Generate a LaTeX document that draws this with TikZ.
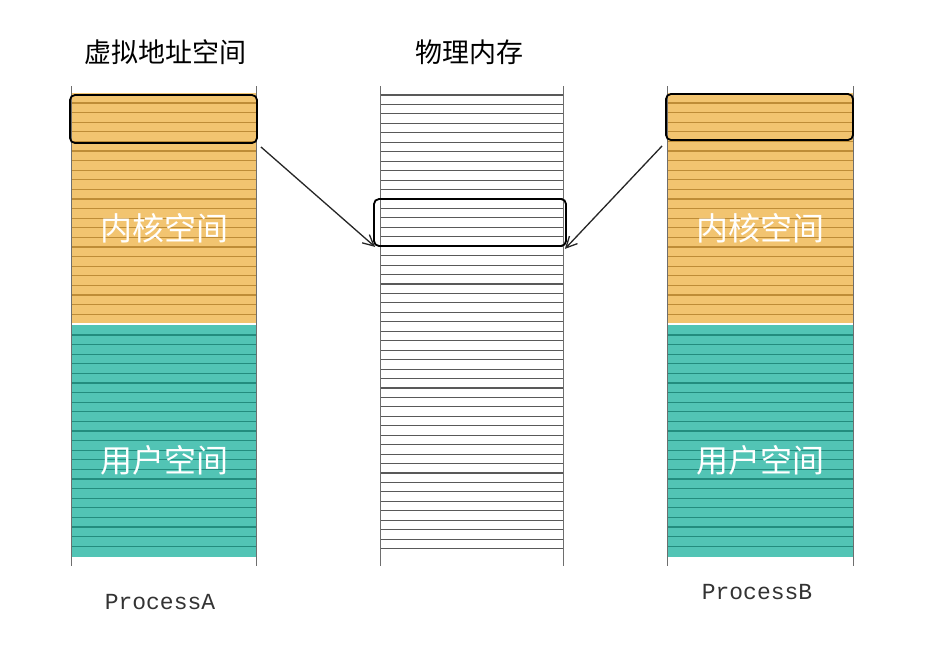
\documentclass[tikz,border=0pt]{standalone}
\usepackage{fontspec}
\newfontfamily\cjk{Noto Sans CJK SC}
\newfontfamily\mono{Liberation Mono}
\usetikzlibrary{arrows.meta}
\definecolor{orfill}{RGB}{242,196,112}
\definecolor{orline}{RGB}{190,140,55}
\definecolor{tefill}{RGB}{82,196,181}
\definecolor{teline}{RGB}{35,140,126}
\definecolor{edge}{RGB}{110,110,110}
\tikzset{
  hibox/.style={draw=black, line width=1.8pt, rounded corners=5pt, inner sep=0pt},
  title/.style={font=\cjk\fontsize{27}{27}\selectfont, text=black},
  inlabel/.style={font=\cjk\fontsize{32}{32}\selectfont, text=white},
  plabel/.style={font=\mono\fontsize{23}{23}\selectfont, text=black!80},
  conn/.style={draw=black!85, line width=1.3pt, -{Straight Barb[length=11pt,width=11pt]}},
}
\begin{document}
\begin{tikzpicture}[x=1pt,y=-1pt]
\useasboundingbox (0,0) rectangle (933,657);
\fill[white] (0,0) rectangle (933,657);
% left column
\fill[orfill] (71,93) rectangle (256,323);
\foreach \y in {103,112.6,...,318} \draw[orline, line width=1.2pt] (71,\y) -- (256,\y);
\fill[tefill] (71,325) rectangle (257,557);
\foreach \y in {335,344.6,...,553} \draw[teline, line width=1.2pt] (71,\y) -- (256,\y);
\draw[edge, line width=1pt] (71,86) -- (71,566);
\draw[edge, line width=1pt] (256,86) -- (256,566);
% right column
\fill[orfill] (667,93) rectangle (853,323);
\foreach \y in {103,112.6,...,318} \draw[orline, line width=1.2pt] (667,\y) -- (853,\y);
\fill[tefill] (667,325) rectangle (854,557);
\foreach \y in {335,344.6,...,553} \draw[teline, line width=1.2pt] (667,\y) -- (853,\y);
\draw[edge, line width=1pt] (667,86) -- (667,566);
\draw[edge, line width=1pt] (853,86) -- (853,566);
% middle column
\foreach \y in {95,104.45,...,556} \draw[black!65, line width=1.1pt] (380,\y) -- (563,\y);
\draw[edge, line width=1pt] (380,86) -- (380,566);
\draw[edge, line width=1pt] (563,86) -- (563,566);
% titles
\node[title] (t1) at (165,52) {虚拟地址空间};
\node[title] (t2) at (469,52) {物理内存};
% labels
\node[inlabel] (k1) at (164,228) {内核空间};
\node[inlabel] (u1) at (164,460) {用户空间};
\node[inlabel] (k2) at (760,228) {内核空间};
\node[inlabel] (u2) at (760,460) {用户空间};
\node[plabel] (pa) at (160,602) {ProcessA};
\node[plabel] (pb) at (757,592) {ProcessB};
% highlight boxes
\node[hibox, minimum width=187pt, minimum height=48pt] (ba) at (163.5,119) {};
\node[hibox, minimum width=192pt, minimum height=47pt] (bm) at (470,222.5) {};
\node[hibox, minimum width=187pt, minimum height=46pt] (bb) at (759.5,117) {};
% arrows
\coordinate (aa) at ([xshift=3pt,yshift=-3pt]ba.south east);
\coordinate (ab) at ([xshift=-3pt,yshift=-5pt]bb.south west);
\draw[conn] (aa) -- ([xshift=2pt,yshift=0pt]bm.south west);
\draw[conn] (ab) -- ([xshift=-2pt,yshift=-2pt]bm.south east);
\end{tikzpicture}
\end{document}
